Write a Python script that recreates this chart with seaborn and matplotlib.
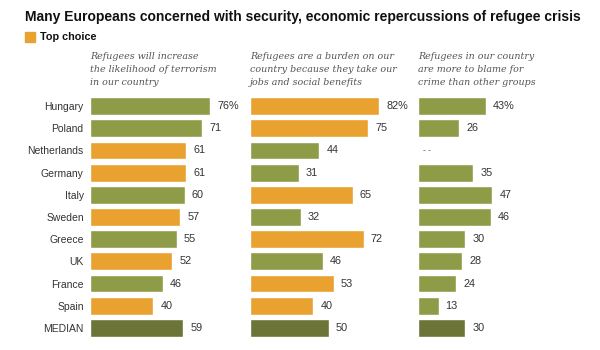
import matplotlib
matplotlib.use("Agg")
import matplotlib.pyplot as plt
import seaborn as sns
import pandas as pd
import numpy as np
from matplotlib.patches import Rectangle

# data
countries = ["Hungary", "Poland", "Netherlands", "Germany", "Italy", "Sweden",
             "Greece", "UK", "France", "Spain", "MEDIAN"]
terrorism = [76, 71, 61, 61, 60, 57, 55, 52, 46, 40, 59]
burden = [82, 75, 44, 31, 65, 32, 72, 46, 53, 40, 50]
crime = [43, 26, np.nan, 35, 47, 46, 30, 28, 24, 13, 30]

subtitles = [
    "Refugees will increase\nthe likelihood of terrorism\nin our country",
    "Refugees are a burden on our\ncountry because they take our\njobs and social benefits",
    "Refugees in our country\nare more to blame for\ncrime than other groups",
]

GREEN = "#8f9c47"
ORANGE = "#e9a130"
DARK = "#6c7437"
TEXT = "#333333"

sns.set_style("white")
plt.rcParams["font.family"] = ["Liberation Sans", "DejaVu Sans"]

df = pd.DataFrame({"country": countries, "terrorism": terrorism,
                   "burden": burden, "crime": crime})
top = df[["terrorism", "burden", "crime"]].max(axis=1)

fig = plt.figure(figsize=(6, 3.5), dpi=100)

lefts = [90, 250, 418]
panels = ["terrorism", "burden", "crime"]
for i, (col, left) in enumerate(zip(panels, lefts)):
    ax = fig.add_axes([left / 600, 11 / 350, 150 / 600, 244 / 350])
    # orange marks the top choice per country, median bars are darker
    colors = {}
    for c, v, t in zip(df["country"], df[col], top):
        if c == "MEDIAN":
            colors[c] = DARK
        elif v == t:
            colors[c] = ORANGE
        else:
            colors[c] = GREEN
    sns.barplot(data=df, y="country", x=col, hue="country", palette=colors,
                order=countries, hue_order=countries, width=0.8, saturation=1,
                legend=False, ax=ax, orient="h")
    ax.set_xlim(0, 95)
    ax.set_ylim(10.5, -0.5)
    ax.set_xlabel("")
    ax.set_ylabel("")
    ax.set_xticks([])
    sns.despine(ax=ax, left=True, bottom=True)
    if i == 0:
        ax.tick_params(axis="y", length=0, pad=4.5, labelsize=7.5, labelcolor=TEXT)
    else:
        ax.set_yticks([])

    for p in ax.patches:
        w = p.get_width()
        if np.isnan(w) or w == 0:
            continue
        row = int(round(p.get_y() + p.get_height() / 2))
        lab = f"{w:.0f}" + ("%" if row == 0 else "")
        ax.text(w + 4.5, row, lab, va="center", ha="left", fontsize=7.8, color=TEXT)
    for row, v in enumerate(df[col]):
        if np.isnan(v):
            ax.text(3, row, "- -", va="center", ha="left", fontsize=6, color=TEXT)

    fig.text(left / 600, 1 - 52 / 350, subtitles[i], ha="left", va="top",
             fontsize=6.8, family="DejaVu Serif", style="italic",
             color="#555555", linespacing=1.55)

fig.text(25 / 600, 1 - 17 / 350,
         "Many Europeans concerned with security, economic repercussions of refugee crisis",
         ha="left", va="center", fontsize=10, fontweight="bold", color="#111111")
fig.patches.append(Rectangle((25 / 600, 1 - 42 / 350), 10 / 600, 10 / 350,
                             transform=fig.transFigure, color=ORANGE))
fig.text(40 / 600, 1 - 37 / 350, "Top choice", ha="left", va="center",
         fontsize=7.8, fontweight="bold", color="#111111")

fig.savefig("out.png", dpi=100)
